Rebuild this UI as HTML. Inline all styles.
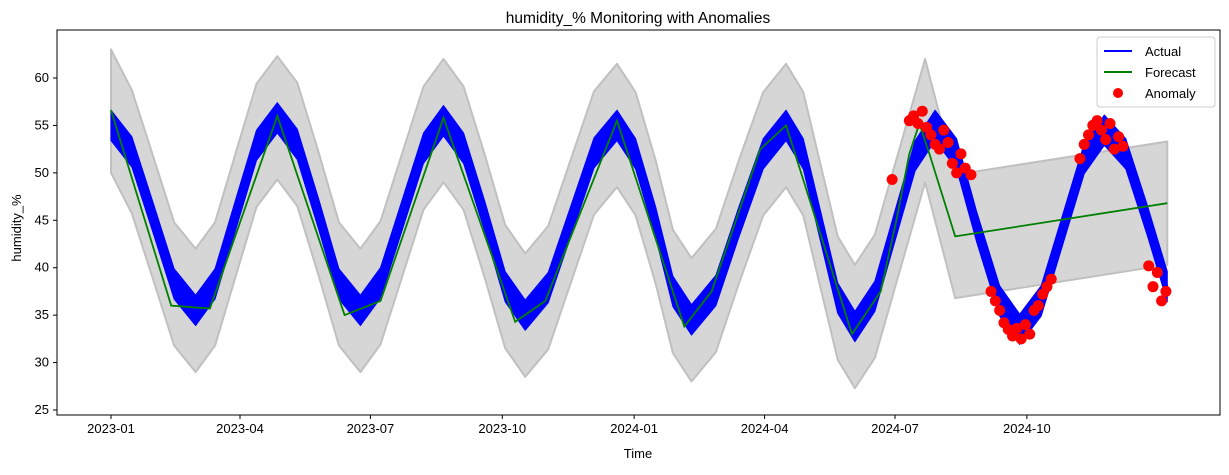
<!DOCTYPE html>
<html><head><meta charset="utf-8"><style>
body{margin:0;background:#fff;font-family:"Liberation Sans","DejaVu Sans",sans-serif}
svg text{font-family:"Liberation Sans","DejaVu Sans",sans-serif;fill:#000}
</style></head><body>
<svg id="chart" width="1229" height="470" xmlns="http://www.w3.org/2000/svg"></svg>
<script>
const actualDays=[0,14.6,29.3,44,59,72.6,87,101.5,116,130,145,159,174,188,203,218,232,246,261,275,289,305,321,337,353,366,380,392,405,422,438,455,471,483,495,507,519,533,547,561,575,590,604,620,634,649,664,679,693,708,723,737];
const actualVals=[55,52.2,45.3,38.3,35.5,38.3,45.6,52.9,55.8,53,45.6,38.3,35.5,38.4,45.5,52.6,55.5,52.6,45.3,38,35,37.9,45,52.1,55,52,44.8,37.5,34.5,37.6,44.8,52,55,52,44.4,36.8,33.8,37,44.4,51.8,55,52,44.3,36.5,33.5,36.5,44,51.5,54.5,52,45,38];
const bandDays=[0,14.6,29.3,44,59,72.6,87,101.5,116,130,145,159,174,188,203,218,232,246,261,275,289,305,321,337,353,366,380,392,405,422,438,455,471,483,495,507,519,533,547,561,568,589,737];
const bandVals=[56.5,52.2,45.3,38.3,35.5,38.3,45.6,52.9,55.8,53,45.6,38.3,35.5,38.4,45.5,52.6,55.5,52.6,45.3,38,35,37.9,45,52.1,55,52,44.8,37.5,34.5,37.6,44.8,52,55,52,44.4,36.8,33.8,37,44.4,51.8,55.5,43.3,46.8];
const fcDays=[0,42,69,116,163,188,232,282,303,353,400,419,453,471,517,537,548,557,564,571,589,737];
const fcVals=[56.6,36,35.7,56,35,36.5,55.8,34.3,36.5,55.5,33.8,37.5,52.5,55,33,37.5,45,52,55.2,52,43.3,46.8];
const bandHalf=6.5;
const anomDays=[545,557,560,563,566,569,572,575,578,581,584,587,590,593,596,600,614,617,620,623,626,629,632,635,638,641,644,647,650,653,656,676,679,682,685,688,691,694,697,700,703,706,724,727,730,733,736];
const anomVals=[49.3,55.5,56,55.2,56.5,54.8,54,53,52.5,54.5,53.2,51,50,52,50.5,49.8,37.5,36.5,35.5,34.2,33.5,32.8,33.6,32.5,34,33,35.5,36,37.2,38,38.8,51.5,53,54,55,55.5,54.5,53.5,55.2,52.5,53.8,52.8,40.2,38,39.5,36.5,37.5];
const yTicks=[25,30,35,40,45,50,55,60];
const xTickDays=[0,90,181,273,365,456,547,639];
const xTickLabels=["2023-01","2023-04","2023-07","2023-10","2024-01","2024-04","2024-07","2024-10"];

const L=57,R=1220,T=30,B=415;
const X=d=>111+d*1.4333;
const Y=v=>410-(v-25)*9.486;
const svg=document.getElementById('chart');
const NS="http://www.w3.org/2000/svg";
function mk(tag,attrs,parent){const e=document.createElementNS(NS,tag);for(const k in attrs)e.setAttribute(k,attrs[k]);(parent||svg).appendChild(e);return e;}
function pts(ds,vs,off){return ds.map((d,i)=>X(d).toFixed(1)+','+Y(vs[i]+off).toFixed(1));}

const up=pts(bandDays,bandVals,bandHalf), lo=pts(bandDays,bandVals,-bandHalf).reverse();
const band=mk('polygon',{points:up.concat(lo).join(' '),fill:'#d6d6d6',stroke:'#c0c0c0','stroke-width':2,'stroke-linejoin':'round'});



const aUp=pts(actualDays,actualVals,1.6), aLo=pts(actualDays,actualVals,-1.6).reverse();
const ab=mk('polygon',{points:aUp.concat(aLo).join(' '),fill:'#0000ff',stroke:'#0000ff','stroke-width':1,'stroke-linejoin':'round'});


const al=mk('polyline',{points:pts(actualDays,actualVals,0).join(' '),fill:'none',stroke:'#0000ff','stroke-width':2});



const fl=mk('polyline',{points:pts(fcDays,fcVals,0).join(' '),fill:'none',stroke:'#008000','stroke-width':1.8});



anomDays.forEach((d,i)=>{
  const c=mk('circle',{cx:X(d),cy:Y(anomVals[i]),r:5.5,fill:'#ff0000'});
  
  
});

const fr=mk('rect',{x:L,y:T,width:R-L,height:B-T,fill:'none',stroke:'#000','stroke-width':1});



yTicks.forEach(v=>{
  mk('line',{x1:L-4,x2:L,y1:Y(v),y2:Y(v),stroke:'#000'});
  const t=mk('text',{x:L-8,y:Y(v)+4,'text-anchor':'end','font-size':13});
  t.textContent=v;
  
  
});
xTickDays.forEach((d,i)=>{
  mk('line',{x1:X(d),x2:X(d),y1:B,y2:B+4,stroke:'#000'});
  const t=mk('text',{x:X(d),y:B+18,'text-anchor':'middle','font-size':13});
  t.textContent=xTickLabels[i];
  
  
});

const title=mk('text',{x:638,y:23,'text-anchor':'middle','font-size':15.5});
title.textContent='humidity_% Monitoring with Anomalies';


const xl=mk('text',{x:638,y:458,'text-anchor':'middle','font-size':13});
xl.textContent='Time';


const yl=mk('text',{x:21,y:228,'text-anchor':'middle','font-size':13,transform:'rotate(-90 21 228)'});
yl.textContent='humidity_%';



const lg=mk('g',{});


mk('rect',{x:1097,y:37,width:118,height:70,rx:3,fill:'#fff',stroke:'#ccc'},lg);
const items=[['Actual','line','#0000ff'],['Forecast','line','#008000'],['Anomaly','dot','#ff0000']];
items.forEach((it,i)=>{
  const y=51+i*21;
  const g=mk('g',{},lg);
  
  
  if(it[1]==='line')mk('line',{x1:1104,x2:1132,y1:y,y2:y,stroke:it[2],'stroke-width':2},g);
  else mk('circle',{cx:1118,cy:y,r:5,fill:it[2]},g);
  const t=mk('text',{x:1145,y:y+5,'font-size':13},g);
  t.textContent=it[0];
});
</script>
</body></html>
